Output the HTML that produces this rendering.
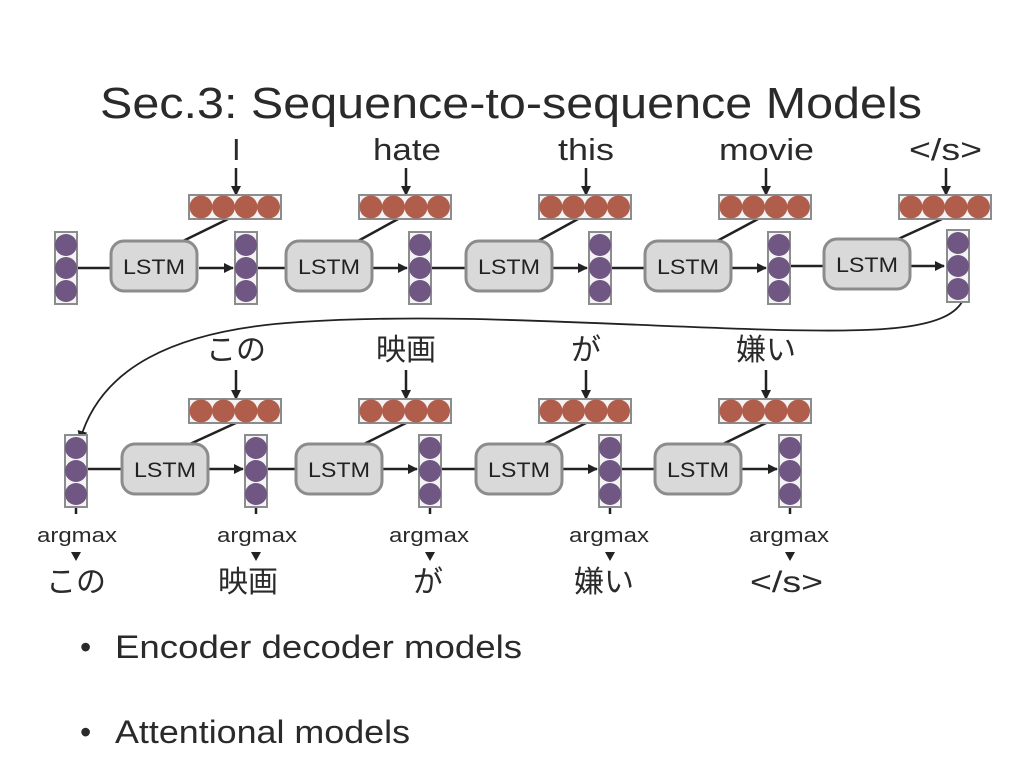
<!DOCTYPE html>
<html><head><meta charset="utf-8"><style>
body{margin:0;background:#fff;}
svg{display:block}
text{font-family:"Liberation Sans","Noto Sans CJK JP",sans-serif;fill:#2a2a2a}
</style></head><body>
<svg width="1024" height="768" viewBox="0 0 1024 768" xmlns="http://www.w3.org/2000/svg">
<defs>
<marker id="ah" markerWidth="10" markerHeight="10" refX="9" refY="5" orient="auto" markerUnits="userSpaceOnUse"><path d="M0,0 L10,5 L0,10 z" fill="#222"/></marker>
<g id="pc"><rect x="0" y="0" width="22" height="72" fill="#f4f4f4" stroke="#8a8c8e" stroke-width="2"/><circle cx="11" cy="13" r="11" fill="#6f5683"/><circle cx="11" cy="36" r="11" fill="#6f5683"/><circle cx="11" cy="59" r="11" fill="#6f5683"/></g>
<g id="rr"><rect x="0" y="0" width="92" height="24" fill="#f4f4f4" stroke="#8a8c8e" stroke-width="2"/><circle cx="12" cy="12" r="11.5" fill="#b15d4c"/><circle cx="34.5" cy="12" r="11.5" fill="#b15d4c"/><circle cx="57" cy="12" r="11.5" fill="#b15d4c"/><circle cx="79.5" cy="12" r="11.5" fill="#b15d4c"/></g>
<g id="ls"><rect x="0" y="0" width="86" height="50" rx="13" fill="#d9d9d9" stroke="#8a8c8e" stroke-width="3"/><text x="12" y="33" font-size="21" textLength="62" lengthAdjust="spacingAndGlyphs" style="fill:#222">LSTM</text></g>
</defs>
<text x="100" y="118" font-size="44" textLength="822" lengthAdjust="spacingAndGlyphs">Sec.3: Sequence-to-sequence Models</text>

<g stroke="#222" stroke-width="2.5" fill="none">
<line x1="77" y1="268" x2="111" y2="268"/><line x1="199" y1="268" x2="233" y2="268" marker-end="url(#ah)"/>
<line x1="257" y1="268" x2="286" y2="268"/><line x1="372" y1="268" x2="407" y2="268" marker-end="url(#ah)"/>
<line x1="431" y1="268" x2="466" y2="268"/><line x1="552" y1="268" x2="587" y2="268" marker-end="url(#ah)"/>
<line x1="611" y1="268" x2="645" y2="268"/><line x1="731" y1="268" x2="766" y2="268" marker-end="url(#ah)"/>
<line x1="790" y1="266" x2="824" y2="266"/><line x1="910" y1="266" x2="944" y2="266" marker-end="url(#ah)"/>
<line x1="236" y1="168" x2="236" y2="195" marker-end="url(#ah)"/>
<line x1="406" y1="168" x2="406" y2="195" marker-end="url(#ah)"/>
<line x1="586" y1="168" x2="586" y2="195" marker-end="url(#ah)"/>
<line x1="766" y1="168" x2="766" y2="195" marker-end="url(#ah)"/>
<line x1="946" y1="168" x2="946" y2="195" marker-end="url(#ah)"/>
<line x1="228" y1="219" x2="183" y2="241"/>
<line x1="398" y1="219" x2="358" y2="241"/>
<line x1="578" y1="219" x2="538" y2="241"/>
<line x1="758" y1="219" x2="717" y2="241"/>
<line x1="942" y1="219" x2="896" y2="240"/>
<path d="M962,302 C945,330 880,332 780,330 C620,326 450,312 300,322 C170,330 100,370 80,440" stroke-width="1.8" marker-end="url(#ah)"/>
<line x1="88" y1="469" x2="122" y2="469"/><line x1="208" y1="469" x2="243" y2="469" marker-end="url(#ah)"/>
<line x1="267" y1="469" x2="296" y2="469"/><line x1="382" y1="469" x2="417" y2="469" marker-end="url(#ah)"/>
<line x1="441" y1="469" x2="476" y2="469"/><line x1="562" y1="469" x2="597" y2="469" marker-end="url(#ah)"/>
<line x1="621" y1="469" x2="655" y2="469"/><line x1="741" y1="469" x2="777" y2="469" marker-end="url(#ah)"/>
<line x1="236" y1="370" x2="236" y2="399" marker-end="url(#ah)"/>
<line x1="406" y1="370" x2="406" y2="399" marker-end="url(#ah)"/>
<line x1="586" y1="370" x2="586" y2="399" marker-end="url(#ah)"/>
<line x1="766" y1="370" x2="766" y2="399" marker-end="url(#ah)"/>
<line x1="238" y1="422" x2="190" y2="444"/>
<line x1="408" y1="422" x2="364" y2="444"/>
<line x1="588" y1="422" x2="544" y2="444"/>
<line x1="768" y1="422" x2="723" y2="444"/>
<line x1="76" y1="507" x2="76" y2="514"/><line x1="256" y1="507" x2="256" y2="514"/><line x1="430" y1="507" x2="430" y2="514"/><line x1="610" y1="507" x2="610" y2="514"/><line x1="790" y1="507" x2="790" y2="514"/>
</g>
<g fill="#222">
<path d="M71,552 l10,0 l-5,9z"/><path d="M251,552 l10,0 l-5,9z"/><path d="M425,552 l10,0 l-5,9z"/><path d="M605,552 l10,0 l-5,9z"/><path d="M785,552 l10,0 l-5,9z"/>
</g>

<use href="#pc" x="55" y="232"/><use href="#pc" x="235" y="232"/><use href="#pc" x="409" y="232"/><use href="#pc" x="589" y="232"/><use href="#pc" x="768" y="232"/><use href="#pc" x="947" y="230"/>
<use href="#rr" x="189" y="195"/><use href="#rr" x="359" y="195"/><use href="#rr" x="539" y="195"/><use href="#rr" x="719" y="195"/><use href="#rr" x="899" y="195"/>
<use href="#ls" x="111" y="241"/><use href="#ls" x="286" y="241"/><use href="#ls" x="466" y="241"/><use href="#ls" x="645" y="241"/><use href="#ls" x="824" y="239"/>

<use href="#pc" x="65" y="435"/><use href="#pc" x="245" y="435"/><use href="#pc" x="419" y="435"/><use href="#pc" x="599" y="435"/><use href="#pc" x="779" y="435"/>
<use href="#rr" x="189" y="399"/><use href="#rr" x="359" y="399"/><use href="#rr" x="539" y="399"/><use href="#rr" x="719" y="399"/>
<use href="#ls" x="122" y="444"/><use href="#ls" x="296" y="444"/><use href="#ls" x="476" y="444"/><use href="#ls" x="655" y="444"/>

<g font-size="31">
<text x="232" y="160">I</text>
<text x="373" y="160" textLength="68" lengthAdjust="spacingAndGlyphs">hate</text>
<text x="558" y="160" textLength="56" lengthAdjust="spacingAndGlyphs">this</text>
<text x="719" y="160" textLength="95" lengthAdjust="spacingAndGlyphs">movie</text>
<text x="909" y="160" textLength="73" lengthAdjust="spacingAndGlyphs">&lt;/s&gt;</text>
</g>
<g font-size="30" text-anchor="middle">
<text x="236" y="360">この</text><text x="406" y="360">映画</text><text x="586" y="360">が</text><text x="766" y="360">嫌い</text>
<text x="76" y="592">この</text><text x="248" y="592">映画</text><text x="428" y="592">が</text><text x="604" y="592">嫌い</text>
</g>
<text x="750" y="592" font-size="30" textLength="73" lengthAdjust="spacingAndGlyphs">&lt;/s&gt;</text>
<g font-size="20">
<text x="37" y="542" textLength="80" lengthAdjust="spacingAndGlyphs">argmax</text>
<text x="217" y="542" textLength="80" lengthAdjust="spacingAndGlyphs">argmax</text>
<text x="389" y="542" textLength="80" lengthAdjust="spacingAndGlyphs">argmax</text>
<text x="569" y="542" textLength="80" lengthAdjust="spacingAndGlyphs">argmax</text>
<text x="749" y="542" textLength="80" lengthAdjust="spacingAndGlyphs">argmax</text>
</g>
<g font-size="32">
<text x="80" y="658">•</text><text x="115" y="658" textLength="407" lengthAdjust="spacingAndGlyphs">Encoder decoder models</text>
<text x="80" y="743">•</text><text x="115" y="743" textLength="295" lengthAdjust="spacingAndGlyphs">Attentional models</text>
</g>
</svg>
</body></html>
